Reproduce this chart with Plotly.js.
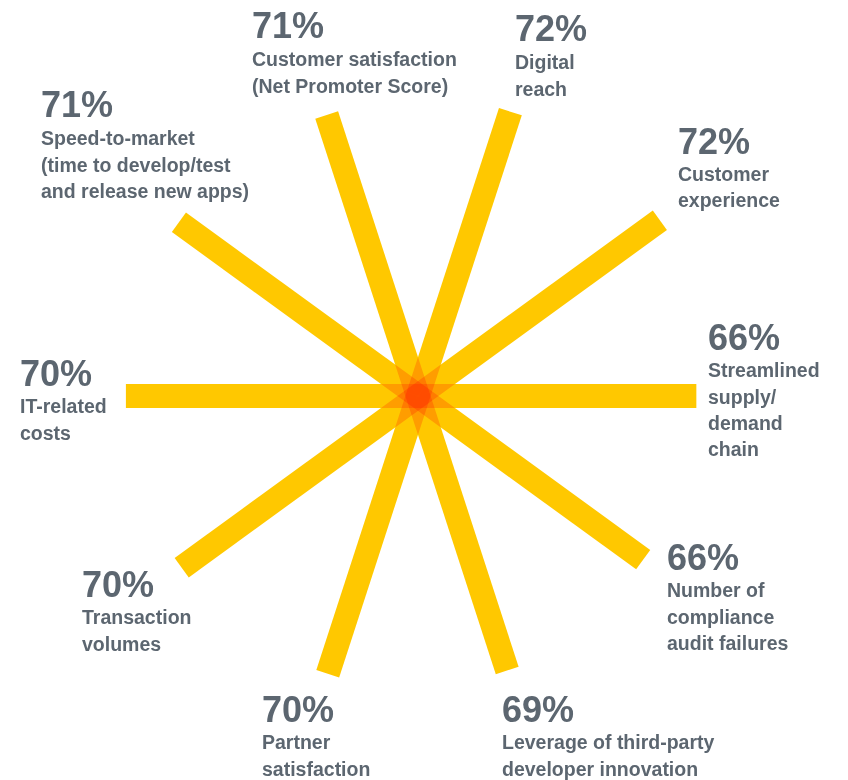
<!DOCTYPE html>
<html>
<head>
<meta charset="utf-8">
<script src="https://cdn.plot.ly/plotly-3.0.1.min.js"></script>
<style>
  html, body { margin: 0; padding: 0; background: #ffffff; }
  #chart { width: 848px; height: 780px; }
  .scatterlayer .trace { mix-blend-mode: multiply; }
</style>
</head>
<body>
<div id="chart"></div>
<script>
// ---- data ----
const angles = [0, 36, 72, 108, 144, 180, 216, 252, 288, 324];
const values = [66, 72, 72, 71, 71, 70, 70, 70, 69, 66];
const categories = [
  "Streamlined supply/demand chain",
  "Customer experience",
  "Digital reach",
  "Customer satisfaction (Net Promoter Score)",
  "Speed-to-market (time to develop/test and release new apps)",
  "IT-related costs",
  "Transaction volumes",
  "Partner satisfaction",
  "Leverage of third-party developer innovation",
  "Number of compliance audit failures"
];
const labelLines = [
  ["Streamlined", "supply/", "demand", "chain"],
  ["Customer", "experience"],
  ["Digital", "reach"],
  ["Customer satisfaction", "(Net Promoter Score)"],
  ["Speed-to-market", "(time to develop/test", "and release new apps)"],
  ["IT-related", "costs"],
  ["Transaction", "volumes"],
  ["Partner", "satisfaction"],
  ["Leverage of third-party", "developer innovation"],
  ["Number of", "compliance", "audit failures"]
];

// ---- layout (pixel anchors of each label block: left x, centre y of the percentage) ----
const labelPos = [
  [707, 337], [677, 141], [514, 29], [251, 26], [40, 105],
  [19, 373], [81, 584], [261, 709], [501, 709], [666, 557]
];
const W = 848, H = 780;
const cx = 418, cy = 396, R = 300;
const radialRange = [-15, 72.3];
const spokeColor = "#FFC800";
const textColor = "#5c6670";
const fontFamily = "'Liberation Sans', Arial, sans-serif";

const traces = values.map((v, i) => ({
  type: "scatterpolar",
  mode: "lines",
  r: [radialRange[0], v],
  theta: [angles[i], angles[i]],
  name: categories[i],
  line: { color: spokeColor, width: 24 },
  hoverinfo: "skip",
  cliponaxis: false,
  showlegend: false
}));

const annotations = [];
values.forEach((v, i) => {
  const [px, py] = labelPos[i];
  annotations.push({
    xref: "paper", yref: "paper",
    x: px / W, y: 1 - py / H,
    xanchor: "left", yanchor: "middle",
    showarrow: false, align: "left", valign: "middle",
    text: v + "%",
    font: { family: fontFamily, size: 36, color: textColor, weight: 700 },
    borderpad: 0
  });
  labelLines[i].forEach((line, j) => {
    const ly = py + 33 + j * 26.5;
    annotations.push({
      xref: "paper", yref: "paper",
      x: px / W, y: 1 - ly / H,
      xanchor: "left", yanchor: "middle",
      showarrow: false, align: "left", valign: "middle",
      text: line,
      font: { family: fontFamily, size: 19.5, color: textColor, weight: 700 },
      borderpad: 0
    });
  });
});

const layout = {
  width: W, height: H,
  margin: { l: 0, r: 0, t: 0, b: 0 },
  paper_bgcolor: "#ffffff",
  plot_bgcolor: "#ffffff",
  showlegend: false,
  polar: {
    domain: { x: [(cx - R) / W, (cx + R) / W], y: [(H - cy - R) / H, (H - cy + R) / H] },
    bgcolor: "rgba(0,0,0,0)",
    radialaxis: { visible: false, range: radialRange },
    angularaxis: { visible: false, rotation: 0, direction: "counterclockwise" }
  },
  annotations: annotations
};

Plotly.newPlot("chart", traces, layout, { staticPlot: true, displayModeBar: false });
</script>
</body>
</html>
